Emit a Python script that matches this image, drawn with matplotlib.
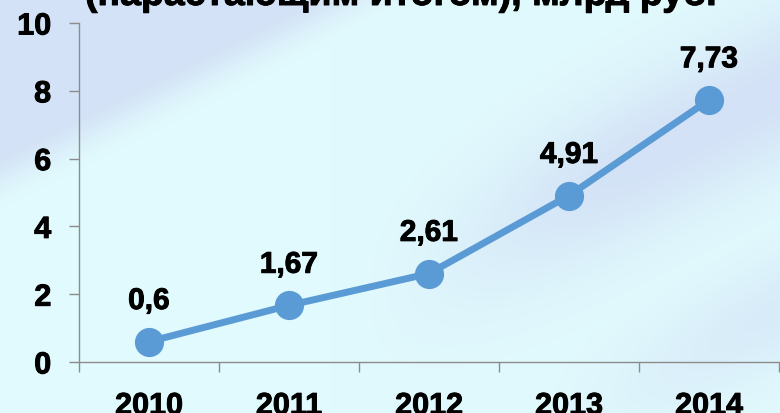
import numpy as np
import matplotlib.pyplot as plt
import matplotlib.patheffects as pe

years = ["2010", "2011", "2012", "2013", "2014"]
values = [0.6, 1.67, 2.61, 4.91, 7.73]
value_labels = ["0,6", "1,67", "2,61", "4,91", "7,73"]
title_text = "(нарастающим итогом), млрд руб."

plt.rcParams['font.family'] = ['Liberation Sans', 'DejaVu Sans']
plt.rcParams['font.weight'] = 'bold'

W, H = 780, 414
fig = plt.figure(figsize=(W / 100, H / 100), dpi=100)

# background: pale cyan with soft diagonal blue bands
yy, xx = np.mgrid[0:H, 0:W].astype(float)
v = yy + 0.5 * xx

def smooth(a, b, t):
    s = np.clip((t - a) / (b - a), 0, 1)
    return s * s * (3 - 2 * s)

w = 1 - smooth(150, 210, v)
w = np.maximum(w, np.exp(-((v - 480) / 80) ** 2) * smooth(330, 650, xx))
w = np.maximum(w, 0.6 * np.exp(-((v - 700) / 60) ** 2) * smooth(500, 780, xx))
blue = np.array([211, 226, 246]) / 255
cyan = np.array([225, 250, 253]) / 255
img = cyan[None, None, :] * (1 - w[..., None]) + blue[None, None, :] * w[..., None]
bg = fig.add_axes([0, 0, 1, 1])
bg.imshow(img, aspect='auto', interpolation='bilinear')
bg.axis('off')

heavy = [pe.withStroke(linewidth=0.7, foreground='black')]

ax = fig.add_axes([79 / W, 1 - 363 / H, 700 / W, 339 / H])
ax.patch.set_alpha(0)
x = np.arange(len(years))
ax.plot(x, values, color='#5B9BD5', lw=5, marker='o', ms=20, solid_capstyle='round')
for xi, val, lab in zip(x, values, value_labels):
    ax.annotate(lab, (xi, val), xytext=(0, 23.5), textcoords='offset points',
                ha='center', va='baseline', fontsize=21.5, fontweight='bold',
                path_effects=heavy)

ax.set_xlim(-0.5, len(years) - 0.5)
ax.set_ylim(0, 10)
ax.set_yticks([0, 2, 4, 6, 8, 10])
ax.tick_params(axis='y', length=7, width=1, color='#8c8c8c', pad=13, labelsize=22)
ax.set_xticks(np.arange(len(years) + 1) - 0.5)
ax.set_xticklabels([])
ax.tick_params(axis='x', which='major', length=7, width=1, color='#8c8c8c')
ax.set_xticks(x, minor=True)
ax.set_xticklabels(years, minor=True)
ax.tick_params(axis='x', which='minor', length=0, pad=21, labelsize=22)
for lab in ax.get_yticklabels() + ax.get_xticklabels(minor=True):
    lab.set_path_effects(heavy)
for s in ['top', 'right']:
    ax.spines[s].set_visible(False)
for s in ['left', 'bottom']:
    ax.spines[s].set_color('#8c8c8c')
    ax.spines[s].set_linewidth(1)

fig.text(0.514, 1 - 6 / H, title_text, ha='center', va='baseline',
         fontsize=27, fontweight='bold', path_effects=heavy)

fig.savefig('out.png', dpi=100)
